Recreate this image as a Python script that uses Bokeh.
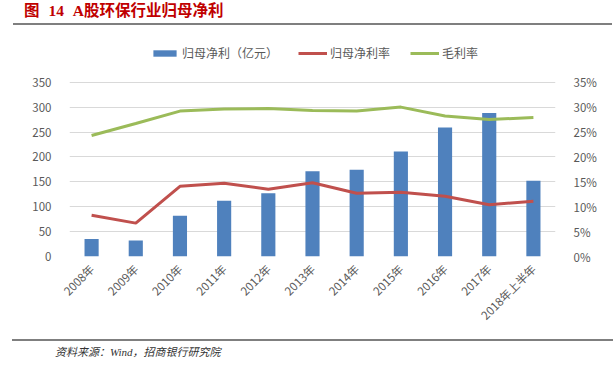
import math
from bokeh.plotting import figure
from bokeh.layouts import column
from bokeh.models import (ColumnDataSource, Range1d, FactorRange, LinearAxis, FixedTicker,
                          NumeralTickFormatter, Legend, LegendItem, Div)
from bokeh.embed import file_html
from bokeh.resources import INLINE

years = ["2008年", "2009年", "2010年", "2011年", "2012年", "2013年", "2014年",
         "2015年", "2016年", "2017年", "2018年上半年"]
net_profit = [35, 32, 82, 112, 127, 171, 174, 211, 259, 288, 152]
net_margin = [0.083, 0.067, 0.141, 0.147, 0.135, 0.148, 0.127, 0.129, 0.121, 0.104, 0.111]
gross_margin = [0.243, 0.267, 0.292, 0.296, 0.297, 0.293, 0.292, 0.300, 0.282, 0.275, 0.279]
left_ticks = [0, 50, 100, 150, 200, 250, 300, 350]
right_ticks = [0, 0.05, 0.10, 0.15, 0.20, 0.25, 0.30, 0.35]

title_text = "图 14 A股环保行业归母净利"
source_text = "资料来源：Wind，招商银行研究院"
series_names = ["归母净利（亿元）", "归母净利率", "毛利率"]

BAR_C, RED_C, GREEN_C = "#4f81bd", "#c0504d", "#9bbb59"
FONT = "Noto Sans CJK SC"
GRAY = "#595959"

W = 616
H_HEAD, H_MAIN, H_FOOT = 27, 307, 32
FL, FR = 69, 555                 # frame left / right (page px)
FB_LOCAL = 256 - H_HEAD           # frame bottom inside main figure
PX_PER_UNIT = 174.3 / 350
YMAX = FB_LOCAL / PX_PER_UNIT     # frame reaches the top of the main figure

# ---- header
head = Div(width=W, height=H_HEAD, margin=0, text=(
    '<div style="position:relative;width:616px;height:27px;box-sizing:border-box;'
    'padding-left:24px;padding-top:2px;">'
    '<div style="line-height:18px;white-space:nowrap;word-spacing:5px;'
    'font-family:\'Liberation Serif\',\'Noto Sans CJK SC\';font-weight:bold;font-size:15.5px;'
    f'color:#c00000;">{title_text}</div>'
    '<div style="position:absolute;left:13px;top:23px;width:599px;height:2px;'
    'background:#7f7f7f;"></div></div>'))

# ---- main chart
src = ColumnDataSource(dict(x=years, profit=net_profit, nm=net_margin, gm=gross_margin))
p = figure(width=W, height=H_MAIN, output_backend="svg", toolbar_location=None,
           x_range=FactorRange(*years, range_padding=0), y_range=Range1d(0, YMAX),
           min_border_left=FL, min_border_right=W - FR, min_border_top=0,
           min_border_bottom=H_MAIN - FB_LOCAL, margin=0)
p.extra_y_ranges = {"pct": Range1d(0, YMAX / 1000)}
p.outline_line_color = None

bars = p.vbar(x="x", top="profit", width=0.32, source=src, fill_color=BAR_C, line_color=None)
l1 = p.line(x="x", y="nm", source=src, y_range_name="pct", line_color=RED_C, line_width=3)
l2 = p.line(x="x", y="gm", source=src, y_range_name="pct", line_color=GREEN_C, line_width=3)

p.yaxis.ticker = FixedTicker(ticks=left_ticks)
p.ygrid.ticker = FixedTicker(ticks=left_ticks)
p.xgrid.grid_line_color = None
p.ygrid.grid_line_color = "#d9d9d9"

right = LinearAxis(y_range_name="pct", ticker=FixedTicker(ticks=right_ticks),
                   formatter=NumeralTickFormatter(format="0%"))
p.add_layout(right, "right")

for ax in [p.yaxis[0], right, p.xaxis[0]]:
    ax.axis_line_color = None
    ax.major_tick_line_color = None
    ax.minor_tick_line_color = None
    ax.major_label_text_font = FONT
    ax.major_label_text_font_size = "11.5px"
    ax.major_label_text_color = GRAY
p.yaxis[0].major_label_standoff = 12
right.major_label_standoff = 12
p.xaxis[0].major_label_orientation = math.pi / 4
p.xaxis[0].major_label_standoff = 4

legend = Legend(items=[LegendItem(label=series_names[0], renderers=[bars]),
                       LegendItem(label=series_names[1], renderers=[l1]),
                       LegendItem(label=series_names[2], renderers=[l2])],
                orientation="horizontal", location=(150 - FL, 256 - 61),
                glyph_width=29, glyph_height=8, label_standoff=3, spacing=20,
                padding=0, margin=0, background_fill_alpha=0, border_line_color=None,
                label_text_font=FONT, label_text_font_size="12px", label_text_color=GRAY)
p.add_layout(legend, "center")

# ---- footer
foot = Div(width=W, height=H_FOOT, margin=0, text=(
    '<div style="position:relative;width:616px;height:32px;">'
    '<div style="position:absolute;left:12px;top:5px;width:601px;height:2px;'
    'background:#7f7f7f;"></div>'
    '<span style="position:absolute;left:55px;top:11px;line-height:14px;white-space:nowrap;'
    'font-family:\'Liberation Serif\',\'Noto Sans CJK SC\';font-style:italic;font-size:11px;'
    f'color:#333333;">{source_text}</span></div>'))

layout = column(head, p, foot, spacing=0)
open("out.html", "w").write(file_html(layout, INLINE))
